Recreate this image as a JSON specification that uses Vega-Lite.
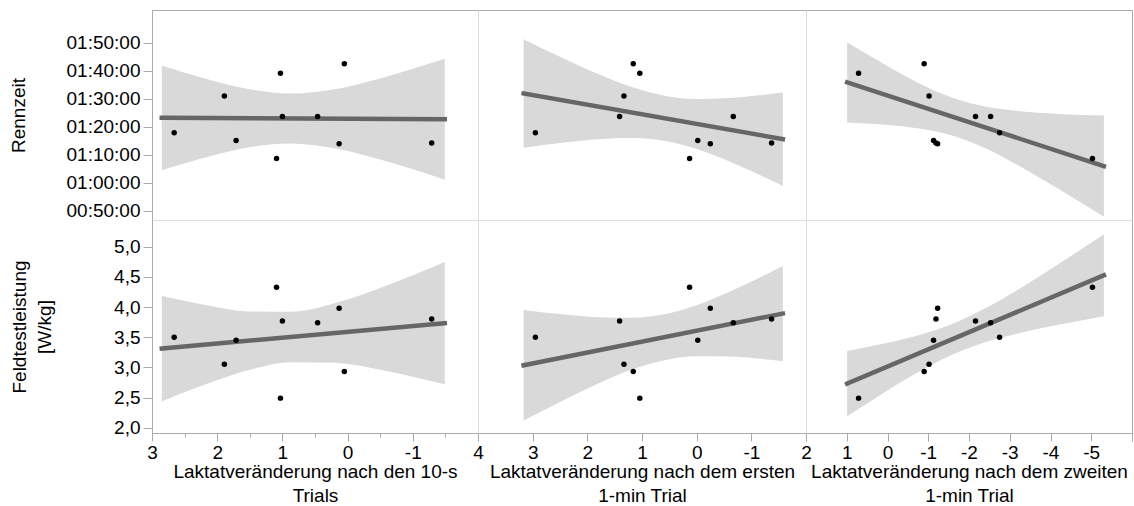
{
  "$schema": "https://vega.github.io/schema/vega-lite/v6.json",
  "background": "white",
  "padding": {"left": 8, "top": 9, "right": 2, "bottom": 1},
  "config": {
    "font": "Liberation Sans",
    "view": {"stroke": "#dddddd", "strokeWidth": 1},
    "axis": {
      "labelFont": "Liberation Sans", "titleFont": "Liberation Sans",
      "labelFontSize": 19, "titleFontSize": 19, "titleFontWeight": "normal",
      "labelColor": "#000000", "titleColor": "#000000",
      "domainColor": "#aaaaaa", "tickColor": "#aaaaaa", "grid": false,
      "titleLineHeight": 24, "labelFlush": false, "labelOverlap": false
    }
  },
  "datasets": {
    "athleten": [
      {"id": "A", "lak10s": 2.66, "lak1min1": 2.95, "lak1min2": -2.75, "rennzeit_s": 4674, "leistung": 3.50},
      {"id": "B", "lak10s": 1.89, "lak1min1": 1.33, "lak1min2": -1.02, "rennzeit_s": 5460, "leistung": 3.05},
      {"id": "C", "lak10s": 1.71, "lak1min1": -0.02, "lak1min2": -1.13, "rennzeit_s": 4506, "leistung": 3.45},
      {"id": "D", "lak10s": 1.09, "lak1min1": 0.13, "lak1min2": -5.03, "rennzeit_s": 4122, "leistung": 4.33},
      {"id": "E", "lak10s": 1.03, "lak1min1": 1.04, "lak1min2": 0.71, "rennzeit_s": 5946, "leistung": 2.49},
      {"id": "F", "lak10s": 1.00, "lak1min1": 1.41, "lak1min2": -2.16, "rennzeit_s": 5022, "leistung": 3.77},
      {"id": "G", "lak10s": 0.46, "lak1min1": -0.67, "lak1min2": -2.53, "rennzeit_s": 5022, "leistung": 3.74},
      {"id": "H", "lak10s": 0.13, "lak1min1": -0.25, "lak1min2": -1.23, "rennzeit_s": 4440, "leistung": 3.98},
      {"id": "I", "lak10s": 0.05, "lak1min1": 1.16, "lak1min2": -0.90, "rennzeit_s": 6150, "leistung": 2.93},
      {"id": "J", "lak10s": -1.29, "lak1min1": -1.37, "lak1min2": -1.19, "rennzeit_s": 4452, "leistung": 3.80}
    ],
    "baender": [
      {"panel": "z1", "x": 2.85, "lo": 3873, "hi": 6113},
      {"panel": "z1", "x": 2.2, "lo": 4139, "hi": 5839},
      {"panel": "z1", "x": 1.5, "lo": 4365, "hi": 5602},
      {"panel": "z1", "x": 0.87, "lo": 4445, "hi": 5513},
      {"panel": "z1", "x": 0.2, "lo": 4344, "hi": 5605},
      {"panel": "z1", "x": -0.5, "lo": 4102, "hi": 5837},
      {"panel": "z1", "x": -1.0, "lo": 3892, "hi": 6041},
      {"panel": "z1", "x": -1.49, "lo": 3670, "hi": 6255},
      {"panel": "z2", "x": 3.165, "lo": 4351, "hi": 6676},
      {"panel": "z2", "x": 2.5, "lo": 4454, "hi": 6299},
      {"panel": "z2", "x": 1.8, "lo": 4537, "hi": 5929},
      {"panel": "z2", "x": 1.2, "lo": 4562, "hi": 5656},
      {"panel": "z2", "x": 0.57, "lo": 4496, "hi": 5462},
      {"panel": "z2", "x": 0.0, "lo": 4325, "hi": 5398},
      {"panel": "z2", "x": -0.6, "lo": 4059, "hi": 5417},
      {"panel": "z2", "x": -1.1, "lo": 3800, "hi": 5471},
      {"panel": "z2", "x": -1.576, "lo": 3538, "hi": 5537},
      {"panel": "z3", "x": 0.99, "lo": 4891, "hi": 6612},
      {"panel": "z3", "x": 0.3, "lo": 4860, "hi": 6251},
      {"panel": "z3", "x": -0.5, "lo": 4798, "hi": 5857},
      {"panel": "z3", "x": -1.2, "lo": 4699, "hi": 5558},
      {"panel": "z3", "x": -1.723, "lo": 4576, "hi": 5383},
      {"panel": "z3", "x": -2.4, "lo": 4341, "hi": 5233},
      {"panel": "z3", "x": -3.2, "lo": 3981, "hi": 5137},
      {"panel": "z3", "x": -4.2, "lo": 3472, "hi": 5077},
      {"panel": "z3", "x": -5.31, "lo": 2876, "hi": 5041},
      {"panel": "l1", "x": 2.85, "lo": 2.435, "hi": 4.189},
      {"panel": "l1", "x": 2.2, "lo": 2.710, "hi": 4.040},
      {"panel": "l1", "x": 1.5, "lo": 2.959, "hi": 3.927},
      {"panel": "l1", "x": 0.87, "lo": 3.086, "hi": 3.922},
      {"panel": "l1", "x": 0.2, "lo": 3.075, "hi": 4.063},
      {"panel": "l1", "x": -0.5, "lo": 2.959, "hi": 4.317},
      {"panel": "l1", "x": -1.0, "lo": 2.845, "hi": 4.527},
      {"panel": "l1", "x": -1.49, "lo": 2.722, "hi": 4.746},
      {"panel": "l2", "x": 3.165, "lo": 2.118, "hi": 3.952},
      {"panel": "l2", "x": 2.5, "lo": 2.427, "hi": 3.883},
      {"panel": "l2", "x": 1.8, "lo": 2.733, "hi": 3.831},
      {"panel": "l2", "x": 1.2, "lo": 2.959, "hi": 3.821},
      {"panel": "l2", "x": 0.57, "lo": 3.123, "hi": 3.885},
      {"panel": "l2", "x": 0.0, "lo": 3.184, "hi": 4.030},
      {"panel": "l2", "x": -0.6, "lo": 3.180, "hi": 4.252},
      {"panel": "l2", "x": -1.1, "lo": 3.147, "hi": 4.465},
      {"panel": "l2", "x": -1.576, "lo": 3.103, "hi": 4.681},
      {"panel": "l3", "x": 0.99, "lo": 2.189, "hi": 3.271},
      {"panel": "l3", "x": 0.3, "lo": 2.489, "hi": 3.365},
      {"panel": "l3", "x": -0.5, "lo": 2.822, "hi": 3.488},
      {"panel": "l3", "x": -1.2, "lo": 3.085, "hi": 3.625},
      {"panel": "l3", "x": -1.723, "lo": 3.250, "hi": 3.758},
      {"panel": "l3", "x": -2.4, "lo": 3.416, "hi": 3.978},
      {"panel": "l3", "x": -3.2, "lo": 3.562, "hi": 4.288},
      {"panel": "l3", "x": -4.2, "lo": 3.705, "hi": 4.715},
      {"panel": "l3", "x": -5.31, "lo": 3.846, "hi": 5.208}
    ]
  },
  "columns": 3,
  "spacing": 0,
  "bounds": "flush",
  "concat": [
    {
      "width": 326, "height": 210,
      "layer": [
        {"data": {"name": "baender"}, "transform": [{"filter": "datum.panel == 'z1'"}],
         "mark": {"type": "area", "color": "#d9d9d9", "interpolate": "monotone", "opacity": 1},
         "encoding": {
           "x": {"field": "x", "type": "quantitative", "scale": {"domain": [-2, 3], "reverse": true, "nice": false, "zero": false}, "axis": {"orient": "top", "labels": false, "ticks": false, "title": null}},
           "y": {"field": "lo", "type": "quantitative", "scale": {"domain": [2807, 7300], "nice": false, "zero": false}, "axis": {"title": "Rennzeit", "titlePadding": 38, "tickSize": 9, "labelPadding": 3, "values": [3000, 3600, 4200, 4800, 5400, 6000, 6600], "labelExpr": "utcFormat(datum.value * 1000, '%H:%M:%S')"}},
           "y2": {"field": "hi"}}},
        {"data": {"name": "athleten"}, "transform": [{"regression": "rennzeit_s", "on": "lak10s", "extent": [-1.49, 2.85]}],
         "mark": {"type": "line", "color": "#666666", "strokeWidth": 4.5, "strokeCap": "square"},
         "encoding": {
           "x": {"field": "lak10s", "type": "quantitative", "scale": {"domain": [-2, 3], "reverse": true, "nice": false, "zero": false}, "axis": {"orient": "top", "labels": false, "ticks": false, "title": null}},
           "y": {"field": "rennzeit_s", "type": "quantitative", "scale": {"domain": [2807, 7300], "nice": false, "zero": false}, "axis": {"title": "Rennzeit", "titlePadding": 38, "tickSize": 9, "labelPadding": 3, "values": [3000, 3600, 4200, 4800, 5400, 6000, 6600], "labelExpr": "utcFormat(datum.value * 1000, '%H:%M:%S')"}}}},
        {"data": {"name": "athleten"},
         "mark": {"type": "circle", "color": "#000000", "size": 30, "opacity": 1},
         "encoding": {
           "x": {"field": "lak10s", "type": "quantitative", "scale": {"domain": [-2, 3], "reverse": true, "nice": false, "zero": false}, "axis": {"orient": "top", "labels": false, "ticks": false, "title": null}},
           "y": {"field": "rennzeit_s", "type": "quantitative", "scale": {"domain": [2807, 7300], "nice": false, "zero": false}, "axis": {"title": "Rennzeit", "titlePadding": 38, "tickSize": 9, "labelPadding": 3, "values": [3000, 3600, 4200, 4800, 5400, 6000, 6600], "labelExpr": "utcFormat(datum.value * 1000, '%H:%M:%S')"}}}}
      ]
    },
    {
      "width": 328, "height": 210,
      "layer": [
        {"data": {"name": "baender"}, "transform": [{"filter": "datum.panel == 'z2'"}],
         "mark": {"type": "area", "color": "#d9d9d9", "interpolate": "monotone", "opacity": 1},
         "encoding": {
           "x": {"field": "x", "type": "quantitative", "scale": {"domain": [-2, 4], "reverse": true, "nice": false, "zero": false}, "axis": {"orient": "top", "labels": false, "ticks": false, "title": null}},
           "y": {"field": "lo", "type": "quantitative", "scale": {"domain": [2807, 7300], "nice": false, "zero": false}, "axis": null},
           "y2": {"field": "hi"}}},
        {"data": {"name": "athleten"}, "transform": [{"regression": "rennzeit_s", "on": "lak1min1", "extent": [-1.576, 3.165]}],
         "mark": {"type": "line", "color": "#666666", "strokeWidth": 4.5, "strokeCap": "square"},
         "encoding": {
           "x": {"field": "lak1min1", "type": "quantitative", "scale": {"domain": [-2, 4], "reverse": true, "nice": false, "zero": false}, "axis": {"orient": "top", "labels": false, "ticks": false, "title": null}},
           "y": {"field": "rennzeit_s", "type": "quantitative", "scale": {"domain": [2807, 7300], "nice": false, "zero": false}, "axis": null}}},
        {"data": {"name": "athleten"},
         "mark": {"type": "circle", "color": "#000000", "size": 30, "opacity": 1},
         "encoding": {
           "x": {"field": "lak1min1", "type": "quantitative", "scale": {"domain": [-2, 4], "reverse": true, "nice": false, "zero": false}, "axis": {"orient": "top", "labels": false, "ticks": false, "title": null}},
           "y": {"field": "rennzeit_s", "type": "quantitative", "scale": {"domain": [2807, 7300], "nice": false, "zero": false}, "axis": null}}}
      ]
    },
    {
      "width": 326, "height": 210,
      "layer": [
        {"data": {"name": "baender"}, "transform": [{"filter": "datum.panel == 'z3'"}],
         "mark": {"type": "area", "color": "#d9d9d9", "interpolate": "monotone", "opacity": 1},
         "encoding": {
           "x": {"field": "x", "type": "quantitative", "scale": {"domain": [-6, 2], "reverse": true, "nice": false, "zero": false}, "axis": {"orient": "top", "labels": false, "ticks": false, "title": null}},
           "y": {"field": "lo", "type": "quantitative", "scale": {"domain": [2807, 7300], "nice": false, "zero": false}, "axis": {"orient": "right", "labels": false, "ticks": false, "title": null}},
           "y2": {"field": "hi"}}},
        {"data": {"name": "athleten"}, "transform": [{"regression": "rennzeit_s", "on": "lak1min2", "extent": [-5.31, 0.99]}],
         "mark": {"type": "line", "color": "#666666", "strokeWidth": 4.5, "strokeCap": "square"},
         "encoding": {
           "x": {"field": "lak1min2", "type": "quantitative", "scale": {"domain": [-6, 2], "reverse": true, "nice": false, "zero": false}, "axis": {"orient": "top", "labels": false, "ticks": false, "title": null}},
           "y": {"field": "rennzeit_s", "type": "quantitative", "scale": {"domain": [2807, 7300], "nice": false, "zero": false}, "axis": {"orient": "right", "labels": false, "ticks": false, "title": null}}}},
        {"data": {"name": "athleten"},
         "mark": {"type": "circle", "color": "#000000", "size": 30, "opacity": 1},
         "encoding": {
           "x": {"field": "lak1min2", "type": "quantitative", "scale": {"domain": [-6, 2], "reverse": true, "nice": false, "zero": false}, "axis": {"orient": "top", "labels": false, "ticks": false, "title": null}},
           "y": {"field": "rennzeit_s", "type": "quantitative", "scale": {"domain": [2807, 7300], "nice": false, "zero": false}, "axis": {"orient": "right", "labels": false, "ticks": false, "title": null}}}}
      ]
    },
    {
      "width": 326, "height": 213,
      "layer": [
        {"data": {"name": "baender"}, "transform": [{"filter": "datum.panel == 'l1'"}],
         "mark": {"type": "area", "color": "#d9d9d9", "interpolate": "monotone", "opacity": 1},
         "encoding": {
           "x": {"field": "x", "type": "quantitative", "scale": {"domain": [-2, 3], "reverse": true, "nice": false, "zero": false}, "axis": {"title": ["Laktatveränderung nach den 10-s", "Trials"], "titlePadding": 0, "labelPadding": 2, "values": [3, 2.5, 2, 1.5, 1, 0.5, 0, -0.5, -1, -1.5, -2], "labelExpr": "(datum.value % 1 != 0 || datum.value == -2) ? '' : '' + datum.value", "tickSize": {"condition": {"test": "datum.value % 1 != 0", "value": 4}, "value": 8}}},
           "y": {"field": "lo", "type": "quantitative", "scale": {"domain": [1.912, 5.443], "nice": false, "zero": false}, "axis": {"title": ["Feldtestleistung", "[W/kg]"], "titlePadding": 59, "titleLineHeight": 25, "tickSize": 9, "labelPadding": 3, "values": [2, 2.5, 3, 3.5, 4, 4.5, 5], "labelExpr": "replace(format(datum.value, '.1f'), '.', ',')"}},
           "y2": {"field": "hi"}}},
        {"data": {"name": "athleten"}, "transform": [{"regression": "leistung", "on": "lak10s", "extent": [-1.49, 2.85]}],
         "mark": {"type": "line", "color": "#666666", "strokeWidth": 4.5, "strokeCap": "square"},
         "encoding": {
           "x": {"field": "lak10s", "type": "quantitative", "scale": {"domain": [-2, 3], "reverse": true, "nice": false, "zero": false}, "axis": {"title": ["Laktatveränderung nach den 10-s", "Trials"], "titlePadding": 0, "labelPadding": 2, "values": [3, 2.5, 2, 1.5, 1, 0.5, 0, -0.5, -1, -1.5, -2], "labelExpr": "(datum.value % 1 != 0 || datum.value == -2) ? '' : '' + datum.value", "tickSize": {"condition": {"test": "datum.value % 1 != 0", "value": 4}, "value": 8}}},
           "y": {"field": "leistung", "type": "quantitative", "scale": {"domain": [1.912, 5.443], "nice": false, "zero": false}, "axis": {"title": ["Feldtestleistung", "[W/kg]"], "titlePadding": 59, "titleLineHeight": 25, "tickSize": 9, "labelPadding": 3, "values": [2, 2.5, 3, 3.5, 4, 4.5, 5], "labelExpr": "replace(format(datum.value, '.1f'), '.', ',')"}}}},
        {"data": {"name": "athleten"},
         "mark": {"type": "circle", "color": "#000000", "size": 30, "opacity": 1},
         "encoding": {
           "x": {"field": "lak10s", "type": "quantitative", "scale": {"domain": [-2, 3], "reverse": true, "nice": false, "zero": false}, "axis": {"title": ["Laktatveränderung nach den 10-s", "Trials"], "titlePadding": 0, "labelPadding": 2, "values": [3, 2.5, 2, 1.5, 1, 0.5, 0, -0.5, -1, -1.5, -2], "labelExpr": "(datum.value % 1 != 0 || datum.value == -2) ? '' : '' + datum.value", "tickSize": {"condition": {"test": "datum.value % 1 != 0", "value": 4}, "value": 8}}},
           "y": {"field": "leistung", "type": "quantitative", "scale": {"domain": [1.912, 5.443], "nice": false, "zero": false}, "axis": {"title": ["Feldtestleistung", "[W/kg]"], "titlePadding": 59, "titleLineHeight": 25, "tickSize": 9, "labelPadding": 3, "values": [2, 2.5, 3, 3.5, 4, 4.5, 5], "labelExpr": "replace(format(datum.value, '.1f'), '.', ',')"}}}}
      ]
    },
    {
      "width": 328, "height": 213,
      "layer": [
        {"data": {"name": "baender"}, "transform": [{"filter": "datum.panel == 'l2'"}],
         "mark": {"type": "area", "color": "#d9d9d9", "interpolate": "monotone", "opacity": 1},
         "encoding": {
           "x": {"field": "x", "type": "quantitative", "scale": {"domain": [-2, 4], "reverse": true, "nice": false, "zero": false}, "axis": {"title": ["Laktatveränderung nach dem ersten", "1-min Trial"], "titlePadding": 0, "labelPadding": 2, "tickSize": 8, "values": [4, 3, 2, 1, 0, -1, -2], "labelExpr": "datum.value == -2 ? '' : '' + datum.value"}},
           "y": {"field": "lo", "type": "quantitative", "scale": {"domain": [1.912, 5.443], "nice": false, "zero": false}, "axis": null},
           "y2": {"field": "hi"}}},
        {"data": {"name": "athleten"}, "transform": [{"regression": "leistung", "on": "lak1min1", "extent": [-1.576, 3.165]}],
         "mark": {"type": "line", "color": "#666666", "strokeWidth": 4.5, "strokeCap": "square"},
         "encoding": {
           "x": {"field": "lak1min1", "type": "quantitative", "scale": {"domain": [-2, 4], "reverse": true, "nice": false, "zero": false}, "axis": {"title": ["Laktatveränderung nach dem ersten", "1-min Trial"], "titlePadding": 0, "labelPadding": 2, "tickSize": 8, "values": [4, 3, 2, 1, 0, -1, -2], "labelExpr": "datum.value == -2 ? '' : '' + datum.value"}},
           "y": {"field": "leistung", "type": "quantitative", "scale": {"domain": [1.912, 5.443], "nice": false, "zero": false}, "axis": null}}},
        {"data": {"name": "athleten"},
         "mark": {"type": "circle", "color": "#000000", "size": 30, "opacity": 1},
         "encoding": {
           "x": {"field": "lak1min1", "type": "quantitative", "scale": {"domain": [-2, 4], "reverse": true, "nice": false, "zero": false}, "axis": {"title": ["Laktatveränderung nach dem ersten", "1-min Trial"], "titlePadding": 0, "labelPadding": 2, "tickSize": 8, "values": [4, 3, 2, 1, 0, -1, -2], "labelExpr": "datum.value == -2 ? '' : '' + datum.value"}},
           "y": {"field": "leistung", "type": "quantitative", "scale": {"domain": [1.912, 5.443], "nice": false, "zero": false}, "axis": null}}}
      ]
    },
    {
      "width": 326, "height": 213,
      "layer": [
        {"data": {"name": "baender"}, "transform": [{"filter": "datum.panel == 'l3'"}],
         "mark": {"type": "area", "color": "#d9d9d9", "interpolate": "monotone", "opacity": 1},
         "encoding": {
           "x": {"field": "x", "type": "quantitative", "scale": {"domain": [-6, 2], "reverse": true, "nice": false, "zero": false}, "axis": {"title": ["Laktatveränderung nach dem zweiten", "1-min Trial"], "titlePadding": 0, "labelPadding": 2, "tickSize": 8, "values": [2, 1, 0, -1, -2, -3, -4, -5, -6], "labelExpr": "datum.value == -6 ? '' : '' + datum.value"}},
           "y": {"field": "lo", "type": "quantitative", "scale": {"domain": [1.912, 5.443], "nice": false, "zero": false}, "axis": {"orient": "right", "labels": false, "ticks": false, "title": null}},
           "y2": {"field": "hi"}}},
        {"data": {"name": "athleten"}, "transform": [{"regression": "leistung", "on": "lak1min2", "extent": [-5.31, 0.99]}],
         "mark": {"type": "line", "color": "#666666", "strokeWidth": 4.5, "strokeCap": "square"},
         "encoding": {
           "x": {"field": "lak1min2", "type": "quantitative", "scale": {"domain": [-6, 2], "reverse": true, "nice": false, "zero": false}, "axis": {"title": ["Laktatveränderung nach dem zweiten", "1-min Trial"], "titlePadding": 0, "labelPadding": 2, "tickSize": 8, "values": [2, 1, 0, -1, -2, -3, -4, -5, -6], "labelExpr": "datum.value == -6 ? '' : '' + datum.value"}},
           "y": {"field": "leistung", "type": "quantitative", "scale": {"domain": [1.912, 5.443], "nice": false, "zero": false}, "axis": {"orient": "right", "labels": false, "ticks": false, "title": null}}}},
        {"data": {"name": "athleten"},
         "mark": {"type": "circle", "color": "#000000", "size": 30, "opacity": 1},
         "encoding": {
           "x": {"field": "lak1min2", "type": "quantitative", "scale": {"domain": [-6, 2], "reverse": true, "nice": false, "zero": false}, "axis": {"title": ["Laktatveränderung nach dem zweiten", "1-min Trial"], "titlePadding": 0, "labelPadding": 2, "tickSize": 8, "values": [2, 1, 0, -1, -2, -3, -4, -5, -6], "labelExpr": "datum.value == -6 ? '' : '' + datum.value"}},
           "y": {"field": "leistung", "type": "quantitative", "scale": {"domain": [1.912, 5.443], "nice": false, "zero": false}, "axis": {"orient": "right", "labels": false, "ticks": false, "title": null}}}}
      ]
    }
  ]
}
